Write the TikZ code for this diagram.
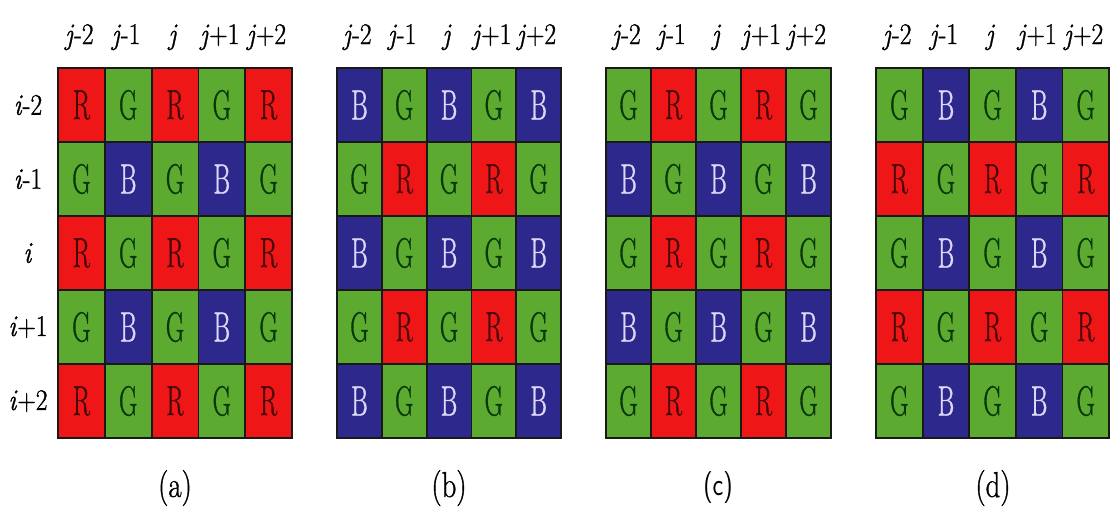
\documentclass[tikz,border=0pt]{standalone}
\usepackage{fontspec}
\setmainfont{Latin Modern Roman}[FakeBold=1.2]

% filter colours and the ink of the letters printed on them
\definecolor{bayerR}{RGB}{238,22,22}
\definecolor{bayerG}{RGB}{92,170,48}
\definecolor{bayerB}{RGB}{44,40,140}
\definecolor{inkR}{RGB}{70,8,8}
\definecolor{inkG}{RGB}{8,55,10}
\definecolor{inkB}{RGB}{222,214,244}

\newcommand\narrowtxt[2]{\scalebox{#1}[1]{#2}}

\tikzset{
  x=1pt, y=-1pt,
  pixel/.style={draw=black!90, line width=1.8pt, minimum width=#1, minimum height=74pt,
    inner sep=0pt, outer sep=0pt, font=\fontsize{42}{42}\selectfont},
  collabel/.style={anchor=base, inner sep=0pt, font=\fontsize{30}{30}\selectfont},
  rowlabel/.style={inner sep=0pt, font=\fontsize{30}{30}\selectfont},
  caption/.style={inner sep=0pt, font=\fontsize{36}{36}\selectfont},
}

% #1 name, #2 left edge, #3 cell width, #4 rows of filter letters
\newcommand\bayergrid[4]{%
  \foreach \rowpat [count=\r from 0] in {#4} {
    \foreach \px [count=\c from 0] in \rowpat {
      \node[pixel=#3, fill=bayer\px, text=ink\px] (#1-\r-\c)
        at ({#2+(\c+0.5)*#3}, {68+(\r+0.5)*74}) {\narrowtxt{0.6}{\px}};
    }
  }
  \foreach \t [count=\c from 0] in {{\textit{j}-2},{\textit{j}-1},{\textit{j}},{\textit{j}+1},{\textit{j}+2}} {
    \node[collabel] (#1-col\c) at ({#2+(\c+0.5)*#3-2}, 44) {\narrowtxt{0.85}{\t}};
  }
}

\begin{document}
\begin{tikzpicture}
  \useasboundingbox (0,0) rectangle (1113,520);

  \bayergrid{a}{58}{46.8}{{R,G,R,G,R},{G,B,G,B,G},{R,G,R,G,R},{G,B,G,B,G},{R,G,R,G,R}}
  \bayergrid{b}{337}{44.8}{{B,G,B,G,B},{G,R,G,R,G},{B,G,B,G,B},{G,R,G,R,G},{B,G,B,G,B}}
  \bayergrid{c}{606}{45}{{G,R,G,R,G},{B,G,B,G,B},{G,R,G,R,G},{B,G,B,G,B},{G,R,G,R,G}}
  \bayergrid{d}{876}{46.6}{{G,B,G,B,G},{R,G,R,G,R},{G,B,G,B,G},{R,G,R,G,R},{G,B,G,B,G}}

  % row indices beside the first pattern
  \foreach \t [count=\r from 0] in {{\textit{i}-2},{\textit{i}-1},{\textit{i}},{\textit{i}+1},{\textit{i}+2}} {
    \node[rowlabel] (row\r) at (28, {68+(\r+0.5)*74}) {\narrowtxt{0.85}{\t}};
  }

  % sub-figure captions
  \node[caption] (cap-a) at (175, 488) {\narrowtxt{0.8}{(a)}};
  \node[caption] (cap-b) at (449, 488) {\narrowtxt{0.8}{(b)}};
  \node[caption] (cap-c) at (718, 488) {\narrowtxt{0.8}{\sffamily\fontsize{32}{32}\selectfont(c)}};
  \node[caption] (cap-d) at (993, 488) {\narrowtxt{0.8}{(d)}};
\end{tikzpicture}
\end{document}
